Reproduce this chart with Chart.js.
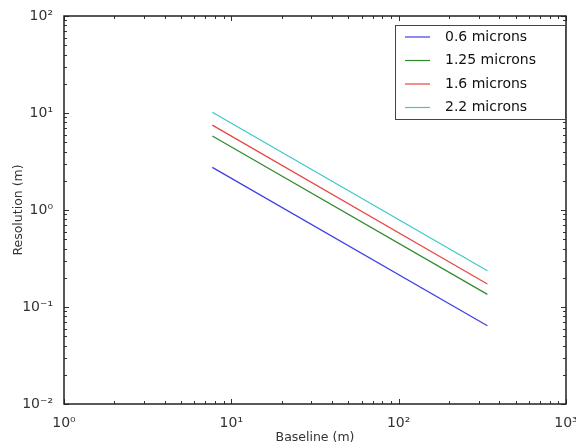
<script src="https://cdn.jsdelivr.net/npm/chart.js"></script>
<style>
  body { margin: 0; background: #fff; }
</style>
<canvas id="chart" width="576" height="448"></canvas>
<script>
  // values (log-log plot)
  const baselines = [7.7, 339];
  const res06 = [2.75, 0.064];
  const res125 = [5.8, 0.135];
  const res16 = [7.5, 0.173];
  const res22 = [10.2, 0.237];
  const labels = ['0.6 microns', '1.25 microns', '1.6 microns', '2.2 microns'];
  const colors = ['#3d3de6', '#2e8b2e', '#e84444', '#3cc8c8'];
  const xDecades = [1, 10, 100, 1000];
  const yDecades = [0.01, 0.1, 1, 10, 100];

  const sup = { '-': '\u207B', '0': '\u2070', '1': '\u00B9', '2': '\u00B2', '3': '\u00B3' };
  function powLabel(v) {
    const e = String(Math.round(Math.log10(v)));
    return '10' + e.split('').map(c => sup[c]).join('');
  }

  function points(ys) {
    return baselines.map((x, i) => ({ x: x, y: ys[i] }));
  }

  // box round the plot area plus inward log ticks on all four sides
  const frame = {
    id: 'frame',
    afterDatasetsDraw(chart) {
      const ctx = chart.ctx;
      const a = chart.chartArea;
      const xs = chart.scales.x, ys = chart.scales.y;
      ctx.save();
      ctx.strokeStyle = '#333';
      ctx.lineWidth = 1;
      ctx.beginPath();
      for (let d = 0; d < 3; d++) {
        for (let k = 1; k <= 10; k++) {
          const v = k * Math.pow(10, d);
          const px = Math.round(xs.getPixelForValue(v)) + 0.5;
          const len = (k === 1 || k === 10) ? 5 : 3;
          ctx.moveTo(px, a.bottom); ctx.lineTo(px, a.bottom - len);
          ctx.moveTo(px, a.top); ctx.lineTo(px, a.top + len);
        }
      }
      for (let d = -2; d < 2; d++) {
        for (let k = 1; k <= 10; k++) {
          const v = k * Math.pow(10, d);
          const py = Math.round(ys.getPixelForValue(v)) + 0.5;
          const len = (k === 1 || k === 10) ? 5 : 3;
          ctx.moveTo(a.left, py); ctx.lineTo(a.left + len, py);
          ctx.moveTo(a.right, py); ctx.lineTo(a.right - len, py);
        }
      }
      ctx.stroke();
      ctx.lineWidth = 1.5;
      ctx.strokeStyle = '#222';
      ctx.strokeRect(a.left, a.top, a.right - a.left, a.bottom - a.top);
      ctx.restore();
    }
  };

  // legend box in the upper right corner, like matplotlib
  const boxLegend = {
    id: 'boxLegend',
    afterDraw(chart) {
      const ctx = chart.ctx;
      const a = chart.chartArea;
      const w = 170, h = 94;
      const x0 = a.right - w - 1, y0 = a.top + 9;
      ctx.save();
      ctx.fillStyle = '#fff';
      ctx.fillRect(x0, y0, w, h);
      ctx.strokeStyle = '#444';
      ctx.lineWidth = 1;
      ctx.strokeRect(x0 + 0.5, y0 + 0.5, w, h);
      ctx.font = '14px "DejaVu Sans"';
      ctx.textBaseline = 'middle';
      chart.data.datasets.forEach((ds, i) => {
        const y = y0 + 12 + i * 23.5;
        ctx.strokeStyle = ds.borderColor;
        ctx.lineWidth = 1.2;
        ctx.beginPath();
        ctx.moveTo(x0 + 10, y); ctx.lineTo(x0 + 35, y);
        ctx.stroke();
        ctx.fillStyle = '#111';
        ctx.fillText(ds.label, x0 + 50, y);
      });
      ctx.restore();
    }
  };

  const series = [res06, res125, res16, res22];
  const ctx = document.getElementById('chart').getContext('2d');
  new Chart(ctx, {
    type: 'scatter',
    data: {
      datasets: series.map((s, i) => ({
        label: labels[i],
        data: points(s),
        showLine: true,
        borderColor: colors[i],
        borderWidth: 1.2,
        pointRadius: 0,
        fill: false
      }))
    },
    options: {
      responsive: false,
      animation: false,
      layout: { padding: { top: 16, right: 10, left: 0, bottom: 0 } },
      plugins: { legend: { display: false }, tooltip: { enabled: false } },
      scales: {
        x: {
          type: 'logarithmic',
          min: 1,
          max: 1000,
          afterBuildTicks: s => { s.ticks = xDecades.map(v => ({ value: v })); },
          afterFit: s => { s.height = 44; s.paddingLeft = 0; s.paddingRight = 0; },
          grid: { display: false },
          border: { display: false },
          ticks: {
            callback: v => powLabel(v),
            color: '#333',
            font: { family: 'DejaVu Sans', size: 14 },
            padding: 3,
            maxRotation: 0,
            autoSkip: false
          },
          title: {
            display: true,
            text: 'Baseline (m)',
            color: '#333',
            font: { family: 'DejaVu Sans', size: 12.5 },
            padding: { top: 0, bottom: 3 }
          }
        },
        y: {
          type: 'logarithmic',
          min: 0.01,
          max: 100,
          afterBuildTicks: s => { s.ticks = yDecades.map(v => ({ value: v })); },
          afterFit: s => { s.width = 64; s.paddingTop = 0; s.paddingBottom = 0; },
          grid: { display: false },
          border: { display: false },
          ticks: {
            callback: v => powLabel(v),
            color: '#333',
            font: { family: 'DejaVu Sans', size: 14 },
            padding: 3,
            autoSkip: false
          },
          title: {
            display: true,
            text: 'Resolution (m)',
            color: '#333',
            font: { family: 'DejaVu Sans', size: 12.5 },
            padding: { top: 11, bottom: 0 }
          }
        }
      }
    },
    plugins: [frame, boxLegend]
  });
</script>
